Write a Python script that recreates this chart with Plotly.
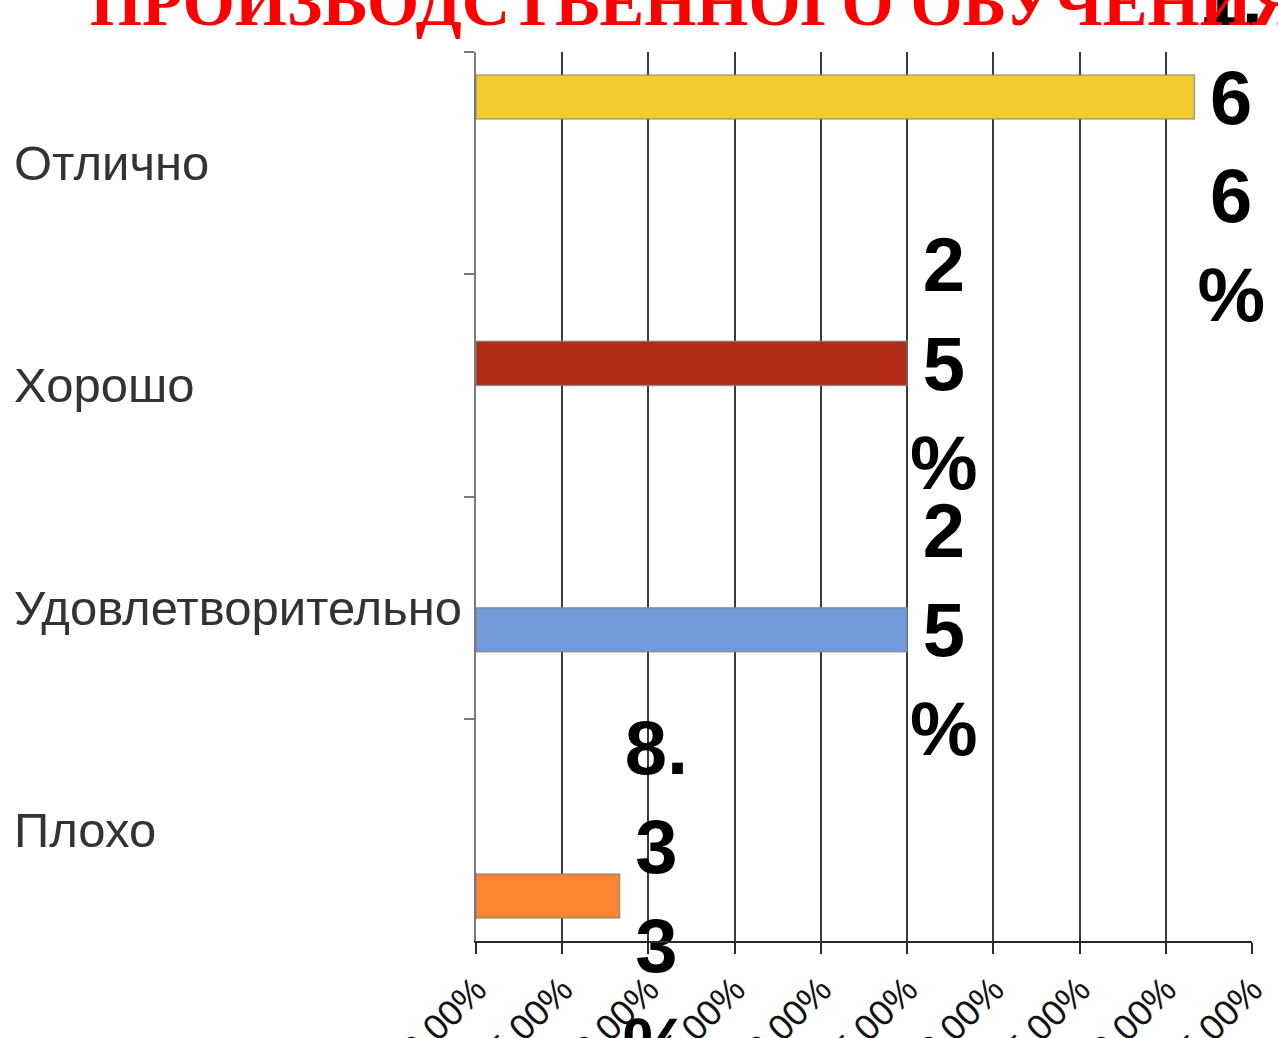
import plotly.graph_objects as go

# Оценки производственного обучения, доля в процентах
categories = ["Отлично", "Хорошо", "Удовлетворительно", "Плохо"]
values = [41.66, 25.0, 25.0, 8.33]
colors = ["#F2CB2C", "#B22B17", "#7299DA", "#FB8533"]
title_text = "ПРОИЗВОДСТВЕННОГО ОБУЧЕНИЯ"
x_ticks = [0, 5, 10, 15, 20, 25, 30, 35, 40, 45]
x_tick_labels = [f"{v:.2f}%" for v in x_ticks]


def fmt_value(v):
    s = f"{v:.2f}".rstrip("0").rstrip(".")
    return s + "%"


def stack_chars(label):
    # one character per line, a decimal point stays with the digit before it
    parts = []
    for ch in label:
        if ch == "." and parts:
            parts[-1] += ch
        else:
            parts.append(ch)
    return "<br>".join(parts)


fig = go.Figure()
for i, (cat, val, col) in enumerate(zip(categories, values, colors)):
    xs = [val if j == i else None for j in range(len(categories))]
    texts = [stack_chars(fmt_value(val)) if j == i else "" for j in range(len(categories))]
    fig.add_trace(go.Bar(
        y=categories,
        x=xs,
        orientation="h",
        name=cat,
        marker=dict(color=col, line=dict(color="rgba(130,130,130,0.7)", width=1.5)),
        text=texts,
        textposition="outside",
        textangle=0,
        constraintext="none",
        cliponaxis=False,
        textfont=dict(family="Liberation Sans", size=76, color="#000000", weight="bold"),
        showlegend=False,
    ))

L, R, T, B = 476, 26, 52, 97
W, H = 1278, 1038
plot_w = W - L - R
plot_h = H - T - B

annotations = []
for cat in categories:
    annotations.append(dict(
        x=(12 - L) / plot_w, xref="paper", xanchor="left",
        y=cat, yref="y", yanchor="middle",
        text=cat, showarrow=False,
        font=dict(family="Liberation Sans", size=49, color="#333333"),
    ))

annotations.append(dict(
    x=(88 - L) / plot_w, xref="paper", xanchor="left",
    y=(plot_h + T - 2) / plot_h, yref="paper", yanchor="middle",
    text="<b>" + title_text + "</b>", showarrow=False,
    font=dict(family="Liberation Serif", size=67, color="#FF0000"),
))

fig.update_layout(
    width=W, height=H,
    margin=dict(l=L, r=R, t=T, b=B, pad=0),
    paper_bgcolor="white",
    plot_bgcolor="white",
    barmode="group",
    bargap=0.208,
    bargroupgap=0,
    annotations=annotations,
    xaxis=dict(
        range=[0, 45],
        tickvals=x_ticks,
        ticktext=x_tick_labels,
        tickangle=-45,
        tickfont=dict(family="Liberation Sans", size=36, color="#111111"),
        showgrid=True, gridcolor="#3a3a3a", gridwidth=1.5,
        showline=True, linecolor="#2a2a2a", linewidth=2,
        ticks="outside", ticklen=11, tickwidth=2, tickcolor="#2a2a2a",
        zeroline=False, automargin=False,
    ),
    yaxis=dict(
        categoryorder="array", categoryarray=categories,
        autorange="reversed",
        showticklabels=False,
        showgrid=False,
        showline=True, linecolor="#7a7a7a", linewidth=2,
        ticks="outside", tickson="boundaries", ticklen=10, tickwidth=2, tickcolor="#7a7a7a",
        zeroline=False, automargin=False,
    ),
)

fig.write_html("out.html")
